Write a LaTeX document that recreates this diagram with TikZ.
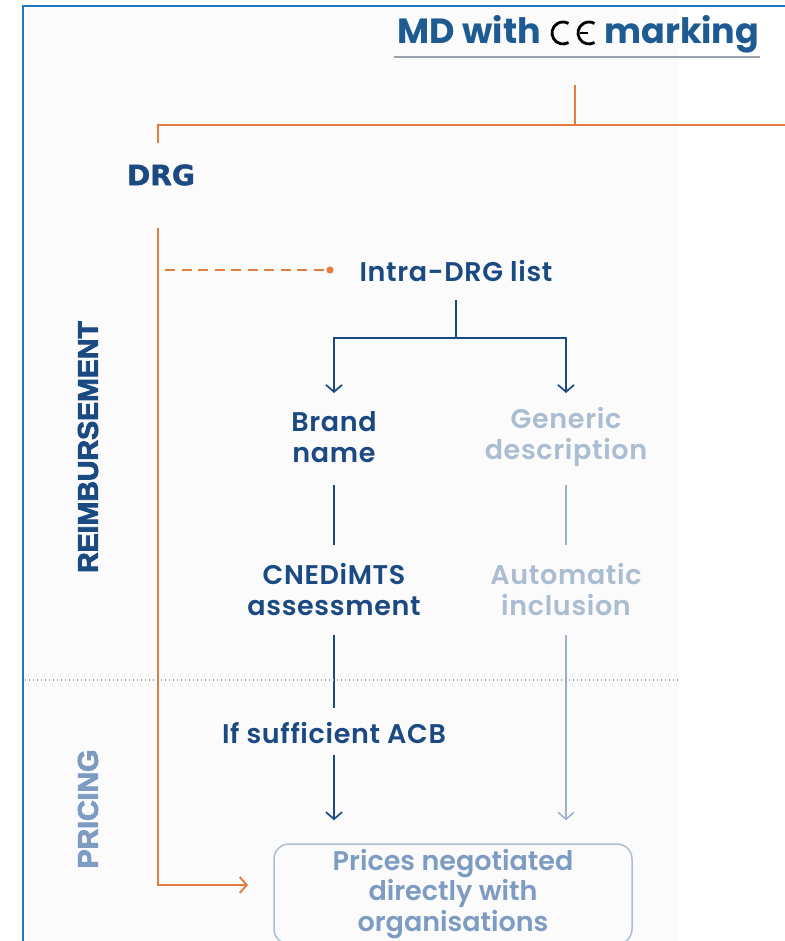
\documentclass[tikz,border=0pt]{standalone}
\usepackage{fontspec}
\setmainfont{Poppins}[BoldFont={Poppins SemiBold}]
\newfontfamily\titlefont{Poppins}
\newfontfamily\heavyfont{Liberation Sans}[BoldFeatures={FakeBold=3}]
\newfontfamily\blockfont{DejaVu Sans}[BoldFeatures={FakeBold=1.5}]
\usetikzlibrary{arrows.meta,calc}

\definecolor{navy}{HTML}{1B4A82}
\definecolor{titleblue}{HTML}{1F5B93}
\definecolor{frameblue}{HTML}{2277C0}
\definecolor{orangeline}{HTML}{E27D3E}
\definecolor{paletext}{HTML}{ABBDD1}
\definecolor{paleline}{HTML}{9DB1CA}
\definecolor{pricetext}{HTML}{7E9CC2}
\definecolor{boxline}{HTML}{AEBDCF}
\definecolor{rulegray}{HTML}{9AA3AE}
\definecolor{panel}{HTML}{FBFBFB}

\begin{document}
\begin{tikzpicture}[x=1pt,y=-1pt,
  lbl/.style={font=\fontsize{27}{31}\selectfont\bfseries\addfontfeature{LetterSpace=2.5}, align=center, inner sep=0pt},
  darklbl/.style={lbl, text=navy},
  palelbl/.style={lbl, text=paletext},
  heavylbl/.style={font=\heavyfont\fontsize{28.5}{30}\selectfont\bfseries, inner sep=0pt},
  titlelbl/.style={font=\titlefont\fontsize{35}{38}\selectfont\bfseries, text=titleblue, inner sep=0pt},
  flow/.style={navy, line width=1.7pt},
  paleflow/.style={paleline, line width=1.5pt},
  barb/.style={-{Straight Barb[length=7pt,width=16pt,line width=1.7pt]}},
  palebarb/.style={-{Straight Barb[length=7pt,width=16pt,line width=1.5pt]}},
  orangepath/.style={orangeline, line width=1.9pt},
  pricebox/.style={draw=boxline, line width=1.5pt, rounded corners=15pt,
    minimum width=358pt, minimum height=100pt, align=center, text=pricetext,
    font=\fontsize{27}{30.5}\selectfont\bfseries, inner sep=0pt}]

% canvas and frame
\useasboundingbox (0,0) rectangle (784,941);
\fill[white] (0,0) rectangle (784,941);
\fill[panel] (25,8) rectangle (678,941);
\draw[frameblue, line width=2.6pt] (23,945) -- (23,6) -- (790,6);

% title with CE mark
\node[titlelbl, anchor=base east] (md) at (541,44) {MD with};
\node[titlelbl, anchor=base west] (mark) at (604,44) {marking};
\draw[black, line width=2.8pt] ($(563,33)+(60:11)$) arc[start angle=60, end angle=300, radius=11];
\draw[black, line width=2.8pt] ($(589,33)+(60:11)$) arc[start angle=60, end angle=300, radius=11];
\draw[black, line width=2.8pt] (580,33) -- (588,33);
\draw[rulegray, line width=1.3pt] ($(md.base west)+(-3,13)$) -- ($(mark.base east)+(0,13)$);

% top orange branch
\coordinate (ttop) at (575,85);
\coordinate (jn) at (575,125);
\coordinate (rightend) at (790,125);
\node[text=navy, inner sep=0pt, font=\blockfont\fontsize{28}{30}\selectfont\bfseries] (drg) at (161,175) {DRG};
\coordinate (drgin) at (158,143);
\coordinate (drgout) at (158,228);
\draw[orangepath] (ttop) -- (jn);
\draw[orangepath] (rightend) -- (jn) -- (jn -| drgin) -- (drgin);

% intra-DRG list with dashed link
\node[darklbl] (intra) at (456,271) {Intra-DRG list};
\coordinate (dashstart) at (165,270);
\coordinate (dot) at (330,270);
\draw[orangepath, line width=1.6pt, dash pattern=on 10pt off 6.5pt] (dashstart) -- (dot);
\fill[orangeline] (dot) circle (3.6pt);

% two branches
\node[darklbl] (brand) at (334,437) {Brand\\name};
\node[palelbl] (generic) at (566,437) {Generic\\description};
\coordinate (fork) at (456,338);
\draw[flow] ($(intra)+(0,29)$) -- (fork);
\draw[flow, barb] (fork) -| ($(brand)+(0,-44)$);
\draw[flow, barb] (fork) -| ($(generic)+(0,-44)$);

\node[darklbl] (cned) at (334,590) {CNEDiMTS\\assessment};
\node[palelbl] (auto) at (566,590) {Automatic\\inclusion};
\draw[flow] ($(brand)+(0,48)$) -- ($(cned)+(0,-45)$);
\draw[paleflow] ($(generic)+(0,48)$) -- ($(auto)+(0,-45)$);

\node[darklbl] (acb) at (334,733) {If sufficient ACB};
\draw[flow] ($(cned)+(0,45)$) -- ($(acb)+(0,-25)$);

% pricing box
\node[pricebox] (prices) at (453,894) {Prices negotiated\\directly with\\organisations};
\draw[flow, barb] ($(acb)+(0,22)$) -- ($(prices.north)+(-119,-23)$);
\draw[paleflow, palebarb] ($(auto)+(0,45)$) -- ($(prices.north)+(113,-23)$);

% orange DRG path to pricing
\coordinate (arrowend) at (248,885);
\draw[orangepath, -{Straight Barb[length=7pt,width=16pt,line width=1.9pt]}] (drgout) |- (arrowend);

% section separator and labels
\coordinate (sepL) at (25,680);
\coordinate (sepR) at (678,680);
\draw[rulegray, line width=1.2pt, dash pattern=on 1.2pt off 2.8pt] (sepL) -- (sepR);
\node[heavylbl, text=navy, rotate=90] (reimb) at (88,447) {REIMBURSEMENT};
\node[heavylbl, text=pricetext, rotate=90] (pricing) at (88,809) {PRICING};
\end{tikzpicture}
\end{document}
